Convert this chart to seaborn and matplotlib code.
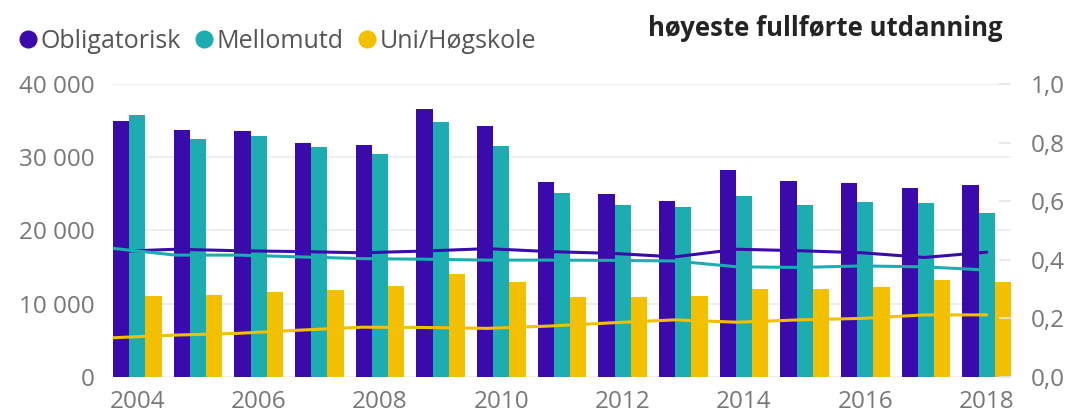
import numpy as np
import pandas as pd
import matplotlib
matplotlib.use("Agg")
import matplotlib.pyplot as plt
from matplotlib.lines import Line2D
import seaborn as sns

# data
years = list(range(2004, 2019))
groups = ["Obligatorisk", "Mellomutd", "Uni/Høgskole"]
colors = ["#3A0BAA", "#1DADB1", "#F2C000"]

antall_oblig = [34900, 33700, 33600, 31950, 31650, 36600, 34200, 26600, 24950, 24050, 28250, 26750, 26500, 25800, 26150]
antall_mello = [35700, 32500, 32900, 31350, 30450, 34850, 31550, 25100, 23500, 23150, 24650, 23450, 23950, 23800, 22350]
antall_uni = [11100, 11150, 11550, 11900, 12450, 14100, 13000, 10950, 10900, 11100, 12000, 11950, 12350, 13200, 13000]

andel_oblig = [0.428, 0.436, 0.431, 0.428, 0.424, 0.430, 0.438, 0.428, 0.422, 0.410, 0.436, 0.431, 0.424, 0.408, 0.426]
andel_mello = [0.439, 0.416, 0.416, 0.410, 0.404, 0.402, 0.399, 0.399, 0.398, 0.396, 0.376, 0.374, 0.379, 0.376, 0.365]
andel_uni = [0.134, 0.143, 0.149, 0.160, 0.170, 0.169, 0.166, 0.174, 0.185, 0.195, 0.187, 0.195, 0.200, 0.212, 0.212]

bars = pd.DataFrame({
    "aar": [str(y) for y in years] * 3,
    "utd": np.repeat(groups, len(years)),
    "antall": antall_oblig + antall_mello + antall_uni,
})
# line points run from the left edge of the first group to the centre of the last
xpos = np.linspace(-0.4, len(years) - 1, len(years))
lines = pd.DataFrame({
    "x": np.tile(xpos, 3),
    "utd": np.repeat(groups, len(years)),
    "andel": andel_oblig + andel_mello + andel_uni,
})

sns.set_style("white")
plt.rcParams["font.family"] = ["Open Sans", "DejaVu Sans"]
tick_col = "#777777"

fig = plt.figure(figsize=(10.68, 4.12), dpi=100)
ax = fig.add_axes([113 / 1068, 35 / 412, 898 / 1068, 293 / 412])

sns.barplot(data=bars, x="aar", y="antall", hue="utd", hue_order=groups,
            palette=colors, width=0.8, saturation=1, linewidth=0,
            legend=False, ax=ax)
ax.set_xlim(-0.4, len(years) - 0.6)
ax.set_ylim(0, 40000)
ax.set_yticks([0, 10000, 20000, 30000, 40000])
ax.set_yticklabels([f"{int(v):,}".replace(",", " ") for v in ax.get_yticks()])
ax.set_xticks(range(0, len(years), 2))
ax.set_xticklabels([str(y) for y in years[::2]])
ax.set_xlabel("")
ax.set_ylabel("")
ax.grid(axis="y", color="#EBEBEB", lw=1.2)
ax.set_axisbelow(True)
ax.tick_params(axis="y", length=0, pad=13, labelsize=17.5, labelcolor=tick_col)
ax.tick_params(axis="x", length=0, pad=9, labelsize=17.5, labelcolor=tick_col)
for s in ax.spines.values():
    s.set_visible(False)

ax2 = ax.twinx()
sns.lineplot(data=lines, x="x", y="andel", hue="utd", hue_order=groups,
             palette=colors, lw=2.2, legend=False, ax=ax2)
ax2.set_ylim(0, 1.0)
ax2.set_yticks(np.arange(0, 1.01, 0.2))
ax2.set_yticklabels([f"{v:.1f}".replace(".", ",") for v in ax2.get_yticks()])
ax2.set_ylabel("")
ax2.tick_params(axis="y", direction="in", length=9, width=1.2, color="#E6E6E6",
                pad=14, labelsize=17.5, labelcolor=tick_col)
for s in ax2.spines.values():
    s.set_visible(False)

handles = [Line2D([], [], ls="", marker="o", ms=12, color=c) for c in colors]
fig.legend(handles, groups, loc="center left", bbox_to_anchor=(0.0, 0.9),
           borderaxespad=0.2, ncol=3, frameon=False, fontsize=18,
           handletextpad=0.0, columnspacing=0.45, handlelength=1.0,
           labelcolor="#555555")
fig.text(1003 / 1068, 1 - 28 / 412, "høyeste fullførte utdanning", ha="right",
         va="center", fontsize=18.5, fontweight="bold", color="#252423")

fig.savefig("out.png", dpi=100, facecolor="white")
